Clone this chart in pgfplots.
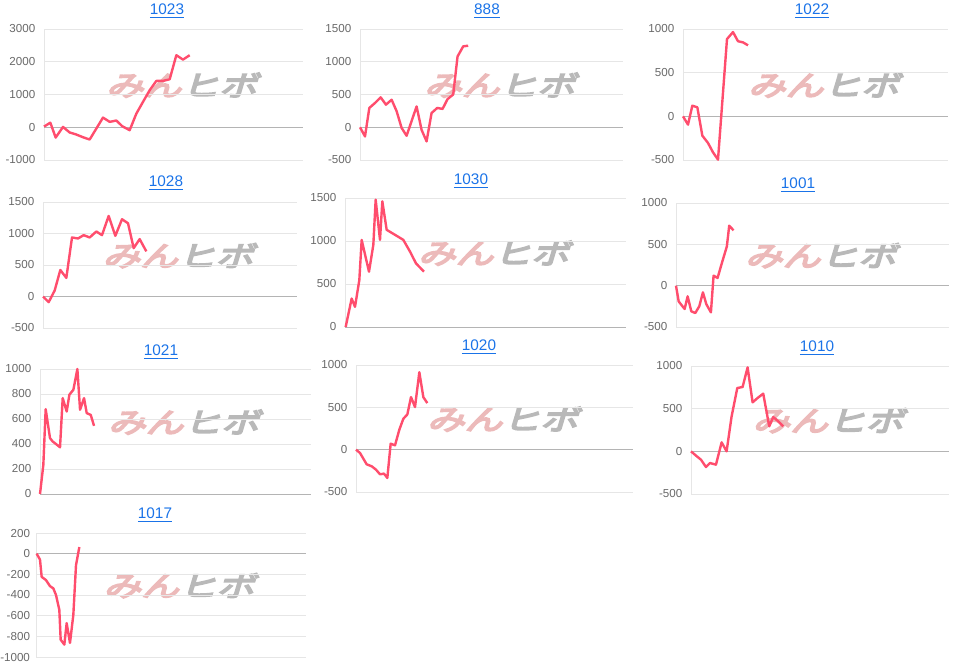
\documentclass[border=0pt]{standalone}
\usepackage{pgfplots}
\pgfplotsset{compat=1.18}
\usepackage{fontspec}
\setmainfont{Liberation Sans}
\newfontfamily\wmfont{Noto Sans CJK JP}[FakeSlant=0.3, FakeStretch=1.35, FakeBold=6]
\definecolor{linec}{RGB}{255,77,109}
\definecolor{gridc}{RGB}{230,230,230}
\definecolor{zeroc}{RGB}{180,180,180}
\definecolor{tickc}{RGB}{105,105,105}
\definecolor{titlec}{RGB}{26,115,232}
\definecolor{wmred}{RGB}{236,186,186}
\definecolor{wmgray}{RGB}{185,185,185}
\pgfplotsset{
  mini/.style={
    scale only axis, anchor=north west, clip=false,
    xtick=\empty,
    axis x line=none, axis y line=left,
    axis line style={draw=gridc,-},
    ymajorgrids, grid style={draw=gridc, line width=0.6pt},
    major tick length=0pt,
    extra y ticks={0}, extra y tick labels={},
    extra y tick style={grid style={draw=zeroc, line width=0.7pt}},
    yticklabel style={font=\fontsize{8.7}{9}\selectfont, text=tickc, xshift=-3pt},
    /pgf/number format/assume math mode=true,
    /pgf/number format/1000 sep={},
    axis background/.style={path picture={\node at ([xshift=6pt,yshift=7pt]path picture bounding box.center) {\wmfont\fontsize{21}{21}\selectfont\textcolor{wmred}{みん}\textcolor{wmgray}{ヒボ}};}},
  },
  pline/.style={color=linec, line width=1.8pt, no markers, line join=round},
}
\tikzset{ttl/.style={text=titlec, font=\fontsize{11.5}{12}\selectfont}}
\begin{document}
\begin{tikzpicture}
\useasboundingbox (0,0) rectangle (718.5pt,-501pt);
% 1023
\begin{axis}[mini, at={(44*0.75pt,-29*0.75pt)}, width=259*0.75pt, height=131*0.75pt,
  xmin=133, xmax=910, ymin=-1000, ymax=3000, ytick={-1000,0,1000,2000,3000}]
\addplot[pline] coordinates {(133,20)(152,140)(168,-315)(190,10)(210,-160)(228,-215)(250,-305)(270,-375)(290,-40)(310,295)(330,165)(350,205)(368,30)(390,-90)(410,415)(430,775)(450,1130)(470,1415)(490,1415)(510,1465)(530,2200)(550,2065)(570,2200)};
\end{axis}
% 888
\begin{axis}[mini, at={(360*0.75pt,-29*0.75pt)}, width=263*0.75pt, height=131*0.75pt,
  xmin=150, xmax=940, ymin=-500, ymax=1500, ytick={-500,0,500,1000,1500}]
\addplot[pline] coordinates {(150,0)(165,-140)(178,295)(195,370)(212,457)(228,345)(245,420)(260,245)(275,-10)(290,-130)(305,95)(320,318)(335,-40)(350,-215)(365,217)(382,295)(398,280)(413,430)(430,500)(443,1080)(460,1235)(475,1245)};
\end{axis}
% 1022
\begin{axis}[mini, at={(683*0.75pt,-29*0.75pt)}, width=265*0.75pt, height=131*0.75pt,
  xmin=160, xmax=955, ymin=-500, ymax=1000, ytick={-500,0,500,1000}]
\addplot[pline] coordinates {(160,0)(175,-95)(188,122)(203,103)(218,-221)(235,-305)(250,-412)(265,-496)(292,885)(310,965)(325,860)(340,847)(355,813)};
\end{axis}
% 1028
\begin{axis}[mini, at={(43*0.75pt,-202*0.75pt)}, width=254*0.75pt, height=126*0.75pt,
  xmin=128, xmax=890, ymin=-500, ymax=1500, ytick={-500,0,500,1000,1500}]
\addplot[pline] coordinates {(128,0)(145,-90)(163,95)(180,421)(198,295)(215,937)(233,921)(250,974)(268,937)(288,1032)(305,974)(325,1279)(345,963)(365,1226)(383,1163)(400,768)(418,911)(438,716)};
\end{axis}
% 1030
\begin{axis}[mini, at={(345*0.75pt,-198*0.75pt)}, width=281*0.75pt, height=129*0.75pt,
  xmin=105, xmax=948, ymin=0, ymax=1500, ytick={0,500,1000,1500}]
\addplot[pline] coordinates {(107,0)(125,331)(135,234)(148,546)(155,1013)(177,643)(190,955)(197,1481)(210,1013)(217,1461)(230,1130)(255,1072)(280,1013)(300,877)(318,740)(342,643)};
\end{axis}
% 1001
\begin{axis}[mini, at={(676*0.75pt,-203*0.75pt)}, width=273*0.75pt, height=124*0.75pt,
  xmin=137, xmax=958, ymin=-500, ymax=1000, ytick={-500,0,500,1000}]
\addplot[pline] coordinates {(137,0)(145,-190)(155,-242)(163,-282)(172,-129)(183,-310)(195,-331)(207,-250)(218,-81)(228,-222)(242,-323)(250,121)(262,93)(275,274)(290,476)(297,726)(310,669)};
\end{axis}
% 1021
\begin{axis}[mini, at={(40*0.75pt,-369*0.75pt)}, width=271*0.75pt, height=125*0.75pt,
  xmin=120, xmax=932, ymin=0, ymax=1000, ytick={0,200,400,600,800,1000}]
\addplot[pline] coordinates {(120,0)(130,233)(137,679)(150,447)(158,420)(165,406)(180,374)(188,767)(200,660)(208,794)(220,834)(232,1000)(240,674)(252,767)(260,647)(272,633)(282,545)};
\end{axis}
% 1020
\begin{axis}[mini, at={(356*0.75pt,-365*0.75pt)}, width=277*0.75pt, height=127*0.75pt,
  xmin=138, xmax=969, ymin=-500, ymax=1000, ytick={-500,0,500,1000}]
\addplot[pline] coordinates {(138,0)(150,-39)(160,-106)(170,-173)(185,-196)(198,-236)(210,-291)(222,-283)(232,-334)(242,71)(255,51)(268,236)(280,365)(292,416)(303,621)(315,503)(328,915)(340,621)(352,550)};
\end{axis}
% 1010
\begin{axis}[mini, at={(691*0.75pt,-366*0.75pt)}, width=258*0.75pt, height=128*0.75pt,
  xmin=183, xmax=958, ymin=-500, ymax=1000, ytick={-500,0,500,1000}]
\addplot[pline] coordinates {(183,0)(197,-47)(213,-98)(228,-184)(240,-137)(258,-156)(275,105)(290,0)(305,410)(322,742)(338,754)(353,984)(368,574)(383,625)(400,676)(418,293)(430,402)(445,352)(460,293)};
\end{axis}
% 1017
\begin{axis}[mini, at={(36*0.75pt,-533*0.75pt)}, width=270*0.75pt, height=124*0.75pt,
  xmin=108, xmax=918, ymin=-1000, ymax=200, ytick={-1000,-800,-600,-400,-200,0,200},
  yticklabel style={xshift=2pt}]
\addplot[pline] coordinates {(110,0)(120,-58)(125,-224)(138,-256)(150,-314)(160,-336)(168,-400)(178,-544)(182,-832)(193,-880)(200,-672)(210,-864)(220,-592)(228,-112)(238,64)};
\end{axis}
% titles
\node[ttl] at (167*0.75pt,-11*0.75pt) {\underline{1023}};
\node[ttl] at (487*0.75pt,-11*0.75pt) {\underline{888}};
\node[ttl] at (812*0.75pt,-11*0.75pt) {\underline{1022}};
\node[ttl] at (166*0.75pt,-183*0.75pt) {\underline{1028}};
\node[ttl] at (471*0.75pt,-181*0.75pt) {\underline{1030}};
\node[ttl] at (798*0.75pt,-185*0.75pt) {\underline{1001}};
\node[ttl] at (161*0.75pt,-352*0.75pt) {\underline{1021}};
\node[ttl] at (479*0.75pt,-347*0.75pt) {\underline{1020}};
\node[ttl] at (817*0.75pt,-348*0.75pt) {\underline{1010}};
\node[ttl] at (155*0.75pt,-515*0.75pt) {\underline{1017}};
\end{tikzpicture}
\end{document}
